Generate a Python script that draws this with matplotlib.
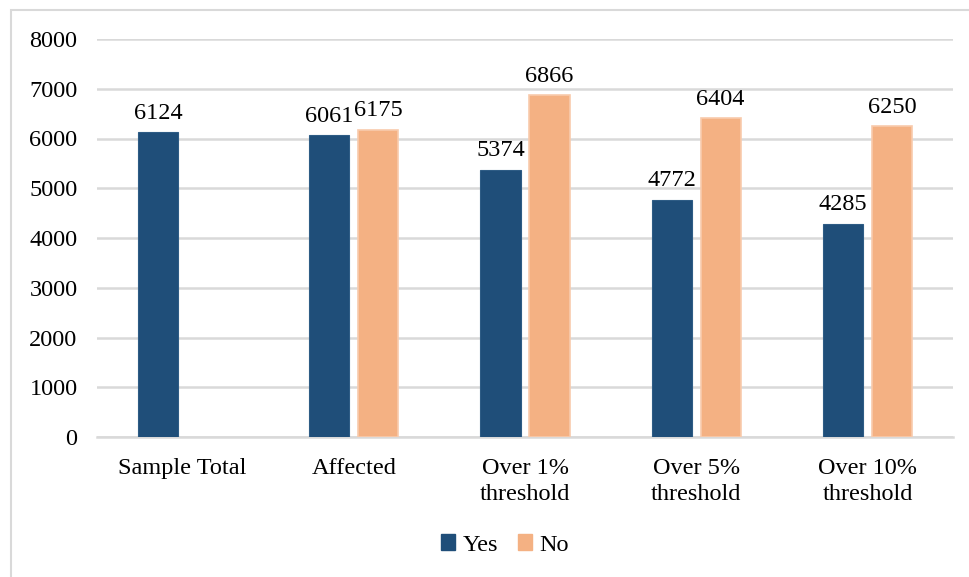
import matplotlib.pyplot as plt
from matplotlib.patches import Rectangle, Patch
import numpy as np

categories = ['Sample Total', 'Affected', 'Over 1%\nthreshold', 'Over 5%\nthreshold', 'Over 10%\nthreshold']
yes_vals = [6124, 6061, 5374, 4772, 4285]
no_vals = [None, 6175, 6866, 6404, 6250]

yes_color = '#1F4E79'
no_color = '#F4B183'
grid_color = '#D9D9D9'

plt.rcParams['font.family'] = ['Liberation Serif', 'DejaVu Serif']
fs = 17.5

W, H = 969, 577
fig = plt.figure(figsize=(W / 100, H / 100), dpi=100)
ax = fig.add_axes([97 / W, 1 - 437 / H, (953 - 97) / W, (437 - 39) / H])

# chart frame
fig.patches.append(Rectangle((11 / W, -0.1), 1.2, 1 - 10 / H + 0.1, transform=fig.transFigure,
                             fill=False, edgecolor=grid_color, linewidth=1.5))

x = np.arange(len(categories))
off = 0.143
bw = 0.235
for i, (y, n) in enumerate(zip(yes_vals, no_vals)):
    ax.bar(x[i] - off, y, bw, color=yes_color, edgecolor='#2E5C85', linewidth=0.8, zorder=3)
    ax.text(x[i] - off, y + 170, str(y), ha='center', va='bottom', fontsize=fs)
    if n is not None:
        ax.bar(x[i] + off, n, bw, color=no_color, edgecolor='#F8CBAD', linewidth=1.2, zorder=3)
        ax.text(x[i] + off, n + 170, str(n), ha='center', va='bottom', fontsize=fs)

ax.set_xlim(-0.5, len(categories) - 0.5)
ax.set_ylim(0, 8000)
ax.set_yticks(range(0, 8001, 1000))
ax.yaxis.grid(True, color=grid_color, linewidth=1.8, zorder=0)
ax.set_axisbelow(True)
for s in ['top', 'right', 'left']:
    ax.spines[s].set_visible(False)
ax.spines['bottom'].set_color(grid_color)
ax.spines['bottom'].set_linewidth(1.8)
ax.tick_params(axis='both', length=0, labelsize=fs)
ax.tick_params(axis='y', pad=14)
ax.tick_params(axis='x', pad=15)
ax.set_xticks(x)
ax.set_xticklabels(categories, linespacing=1.35)

handles = [Patch(color=yes_color), Patch(color=no_color)]
fig.legend(handles, ['Yes', 'No'], loc='center', bbox_to_anchor=(505 / W, 1 - 545 / H),
           ncol=2, frameon=False, fontsize=fs, handlelength=0.6, handleheight=0.6,
           handletextpad=0.3, columnspacing=0.8)

fig.savefig('out.png', dpi=100)
